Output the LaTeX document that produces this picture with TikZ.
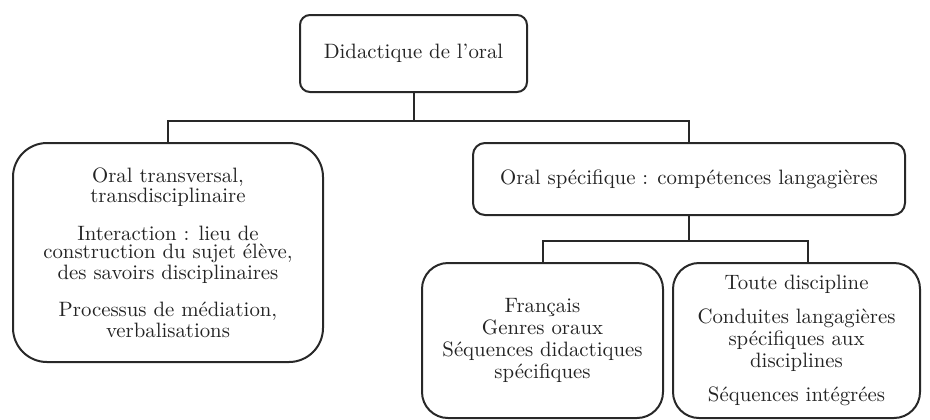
\documentclass[tikz,border=0pt]{standalone}
\usepackage{fontspec}
\usepackage{tikz}

\newcommand{\boxfont}{\fontsize{10.4}{11}\selectfont\addfontfeatures{LetterSpace=5}}

\begin{document}
\begin{tikzpicture}[x=0.5pt, y=-0.5pt,
	box/.style={shape=rectangle, draw={rgb,255:red,40;green,40;blue,40}, line width=1pt, inner sep=0, align=center, text={rgb,255:red,35;green,35;blue,35}, font=\boxfont},
	wire/.style={draw={rgb,255:red,40;green,40;blue,40}, line width=1pt}]
	\useasboundingbox (0, 0) rectangle (930, 419);
	% Boxes and wires:
	\node[box, rounded corners=5pt, minimum width=113.5pt, minimum height=38.5pt](Rect1) at (413.5, 53.5){Didactique de l'oral};
	\node[box, rounded corners=17pt, minimum width=155pt, minimum height=109.5pt, font=\fontsize{10.4}{9}\selectfont\addfontfeatures{LetterSpace=5}](Rect2) at (168, 252.5){Oral transversal,\\ transdisciplinaire\\[8.5pt] Interaction : lieu de\\ construction du sujet élève,\\ des savoirs disciplinaires\\[8.5pt] Processus de médiation,\\ verbalisations};
	\node[box, rounded corners=6pt, minimum width=216pt, minimum height=36pt](Rect3) at (689, 179){Oral spécifique : compétences langagières};
	\node[box, rounded corners=13pt, minimum width=120.5pt, minimum height=77.5pt](Rect4) at (542.5, 340.5){Français\\ Genres oraux\\ Séquences didactiques\\ spécifiques};
	\node[box, rounded corners=13pt, minimum width=123.5pt, minimum height=77.5pt](Rect5) at (796.5, 340.5){Toute discipline\\[6pt] Conduites langagières\\ spécifiques aux\\ disciplines\\[6pt] Séquences intégrées};
	\coordinate (Bus1) at (413.5, 121);
	\coordinate (Bus2) at (689, 241);
	\draw[wire] (Rect1.south) -- (Bus1);
	\draw[wire] (Rect2.north) |- (Bus1) -| (Rect3.north);
	\draw[wire] (Rect3.south) -- (Bus2);
	\draw[wire] (Rect4.north) |- (Bus2) -| ([xshift=5.5pt]Rect5.north);
\end{tikzpicture}
\end{document}
